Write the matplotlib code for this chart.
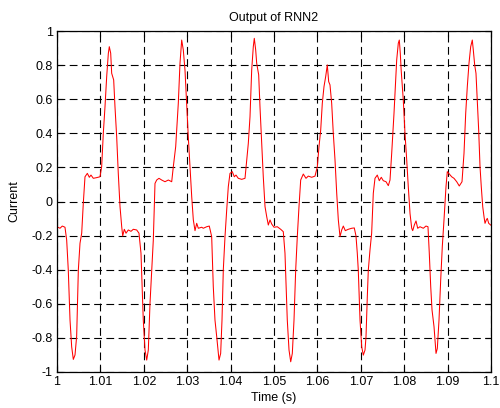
import matplotlib
matplotlib.use("Agg")
import matplotlib.pyplot as plt

plt.rcParams['font.family'] = ['Liberation Sans', 'DejaVu Sans']

title = "Output of RNN2"
xlabel = "Time (s)"
ylabel = "Current"

x_ticks = [1.00, 1.01, 1.02, 1.03, 1.04, 1.05, 1.06, 1.07, 1.08, 1.09, 1.10]
x_tick_labels = ["1", "1.01", "1.02", "1.03", "1.04", "1.05", "1.06", "1.07", "1.08", "1.09", "1.1"]
y_ticks = [-1, -0.8, -0.6, -0.4, -0.2, 0, 0.2, 0.4, 0.6, 0.8, 1]
y_tick_labels = ["-1", "-0.8", "-0.6", "-0.4", "-0.2", "0", "0.2", "0.4", "0.6", "0.8", "1"]

time_s = [
    1.00000, 1.00069, 1.00122, 1.00184, 1.00223, 1.00260, 1.00300, 1.00338, 1.00376, 1.00415,
    1.00453, 1.00492, 1.00530, 1.00569, 1.00606, 1.00645, 1.00699, 1.00745, 1.00783, 1.00837,
    1.00914, 1.00991, 1.01029, 1.01067, 1.01106, 1.01145, 1.01183, 1.01205, 1.01237, 1.01260,
    1.01306, 1.01336, 1.01375, 1.01412, 1.01452, 1.01491, 1.01514, 1.01551, 1.01590, 1.01643,
    1.01705, 1.01758, 1.01836, 1.01889, 1.01935, 1.01988, 1.02028, 1.02067, 1.02104, 1.02143,
    1.02182, 1.02219, 1.02258, 1.02297, 1.02350, 1.02412, 1.02488, 1.02565, 1.02643, 1.02680,
    1.02735, 1.02795, 1.02834, 1.02873, 1.02910, 1.02949, 1.02988, 1.03025, 1.03065, 1.03104,
    1.03141, 1.03180, 1.03219, 1.03256, 1.03334, 1.03371, 1.03449, 1.03509, 1.03564, 1.03601,
    1.03640, 1.03680, 1.03733, 1.03771, 1.03802, 1.03832, 1.03871, 1.03910, 1.03947, 1.03986,
    1.04039, 1.04085, 1.04124, 1.04177, 1.04256, 1.04332, 1.04371, 1.04408, 1.04447, 1.04486,
    1.04523, 1.04546, 1.04578, 1.04601, 1.04647, 1.04677, 1.04717, 1.04753, 1.04793, 1.04832,
    1.04869, 1.04908, 1.04947, 1.05000, 1.05076, 1.05154, 1.05214, 1.05253, 1.05306, 1.05346,
    1.05385, 1.05422, 1.05461, 1.05500, 1.05537, 1.05576, 1.05615, 1.05675, 1.05737, 1.05790,
    1.05869, 1.05945, 1.05998, 1.06037, 1.06076, 1.06113, 1.06152, 1.06191, 1.06228, 1.06260,
    1.06290, 1.06329, 1.06366, 1.06406, 1.06445, 1.06482, 1.06521, 1.06560, 1.06597, 1.06643,
    1.06712, 1.06790, 1.06850, 1.06889, 1.06919, 1.06942, 1.06982, 1.07021, 1.07058, 1.07097,
    1.07120, 1.07150, 1.07173, 1.07212, 1.07250, 1.07288, 1.07327, 1.07380, 1.07426, 1.07472,
    1.07518, 1.07581, 1.07634, 1.07673, 1.07712, 1.07765, 1.07795, 1.07827, 1.07864, 1.07887,
    1.07910, 1.07930, 1.07979, 1.08018, 1.08058, 1.08094, 1.08134, 1.08173, 1.08196, 1.08233,
    1.08272, 1.08311, 1.08364, 1.08440, 1.08502, 1.08548, 1.08578, 1.08611, 1.08641, 1.08687,
    1.08733, 1.08763, 1.08802, 1.08841, 1.08878, 1.08917, 1.08963, 1.08993, 1.09039, 1.09094,
    1.09147, 1.09210, 1.09269, 1.09332, 1.09378, 1.09417, 1.09454, 1.09493, 1.09532, 1.09569,
    1.09592, 1.09624, 1.09654, 1.09684, 1.09716, 1.09747, 1.09776, 1.09809, 1.09839, 1.09862,
    1.09892, 1.09915, 1.09947, 1.09993,
]

current = [
    -0.148, -0.157, -0.144, -0.151, -0.226, -0.402, -0.695, -0.852, -0.926, -0.900,
    -0.790, -0.400, -0.245, -0.186, -0.010, 0.145, 0.165, 0.142, 0.155, 0.136,
    0.140, 0.145, 0.204, 0.400, 0.556, 0.733, 0.869, 0.908, 0.870, 0.752,
    0.713, 0.556, 0.380, 0.165, -0.030, -0.148, -0.202, -0.163, -0.186, -0.167,
    -0.175, -0.163, -0.167, -0.186, -0.303, -0.695, -0.871, -0.930, -0.871, -0.597,
    -0.400, -0.226, 0.106, 0.126, 0.136, 0.126, 0.116, 0.126, 0.116, 0.204,
    0.322, 0.576, 0.811, 0.947, 0.889, 0.771, 0.576, 0.380, 0.204, 0.028,
    -0.108, -0.171, -0.128, -0.157, -0.151, -0.157, -0.148, -0.144, -0.206, -0.499,
    -0.695, -0.793, -0.930, -0.891, -0.695, -0.400, -0.206, -0.050, 0.087, 0.165,
    0.175, 0.145, 0.155, 0.136, 0.130, 0.136, 0.243, 0.341, 0.497, 0.771,
    0.908, 0.957, 0.889, 0.811, 0.743, 0.556, 0.341, 0.145, -0.030, -0.089,
    -0.138, -0.108, -0.132, -0.151, -0.148, -0.163, -0.177, -0.303, -0.695, -0.871,
    -0.940, -0.891, -0.695, -0.400, -0.206, -0.030, 0.126, 0.161, 0.136, 0.149,
    0.142, 0.149, 0.204, 0.322, 0.419, 0.576, 0.674, 0.733, 0.801, 0.703,
    0.684, 0.576, 0.400, 0.243, 0.048, -0.108, -0.206, -0.167, -0.144, -0.171,
    -0.163, -0.157, -0.155, -0.202, -0.303, -0.402, -0.695, -0.852, -0.901, -0.871,
    -0.793, -0.558, -0.402, -0.284, -0.186, 0.048, 0.136, 0.155, 0.122, 0.142,
    0.122, 0.116, 0.093, 0.126, 0.283, 0.517, 0.674, 0.830, 0.928, 0.947,
    0.869, 0.771, 0.595, 0.400, 0.243, 0.087, -0.070, -0.157, -0.171, -0.138,
    -0.114, -0.157, -0.148, -0.157, -0.144, -0.148, -0.303, -0.499, -0.636, -0.734,
    -0.891, -0.862, -0.695, -0.460, -0.264, -0.108, 0.087, 0.175, 0.161, 0.145,
    0.136, 0.116, 0.091, 0.116, 0.283, 0.517, 0.674, 0.811, 0.908, 0.947,
    0.889, 0.801, 0.752, 0.595, 0.419, 0.204, 0.087, -0.030, -0.089, -0.128,
    -0.108, -0.099, -0.128, -0.138,
]

fig = plt.figure(figsize=(5.0, 4.08), dpi=100)
ax = fig.add_axes([57/500, 1 - 372/408, (491-57)/500, (372-31)/408])

ax.plot(time_s, current, color='#ff0000', linewidth=0.75)

ax.set_xlim(1.0, 1.1)
ax.set_ylim(-1, 1)
ax.set_xticks(x_ticks)
ax.set_xticklabels(x_tick_labels)
ax.set_yticks(y_ticks)
ax.set_yticklabels(y_tick_labels)
ax.tick_params(direction='in', length=4, width=0.8, labelsize=9, top=True, right=True, pad=3)
ax.grid(True, color='black', linestyle=(0, (7, 4)), linewidth=0.8)
for s in ax.spines.values():
    s.set_linewidth(0.9)

ax.set_title(title, fontsize=9, pad=7)
ax.set_xlabel(xlabel, fontsize=9, labelpad=3)
ax.set_ylabel(ylabel, fontsize=9, labelpad=8)

fig.savefig("out.png", dpi=100)
